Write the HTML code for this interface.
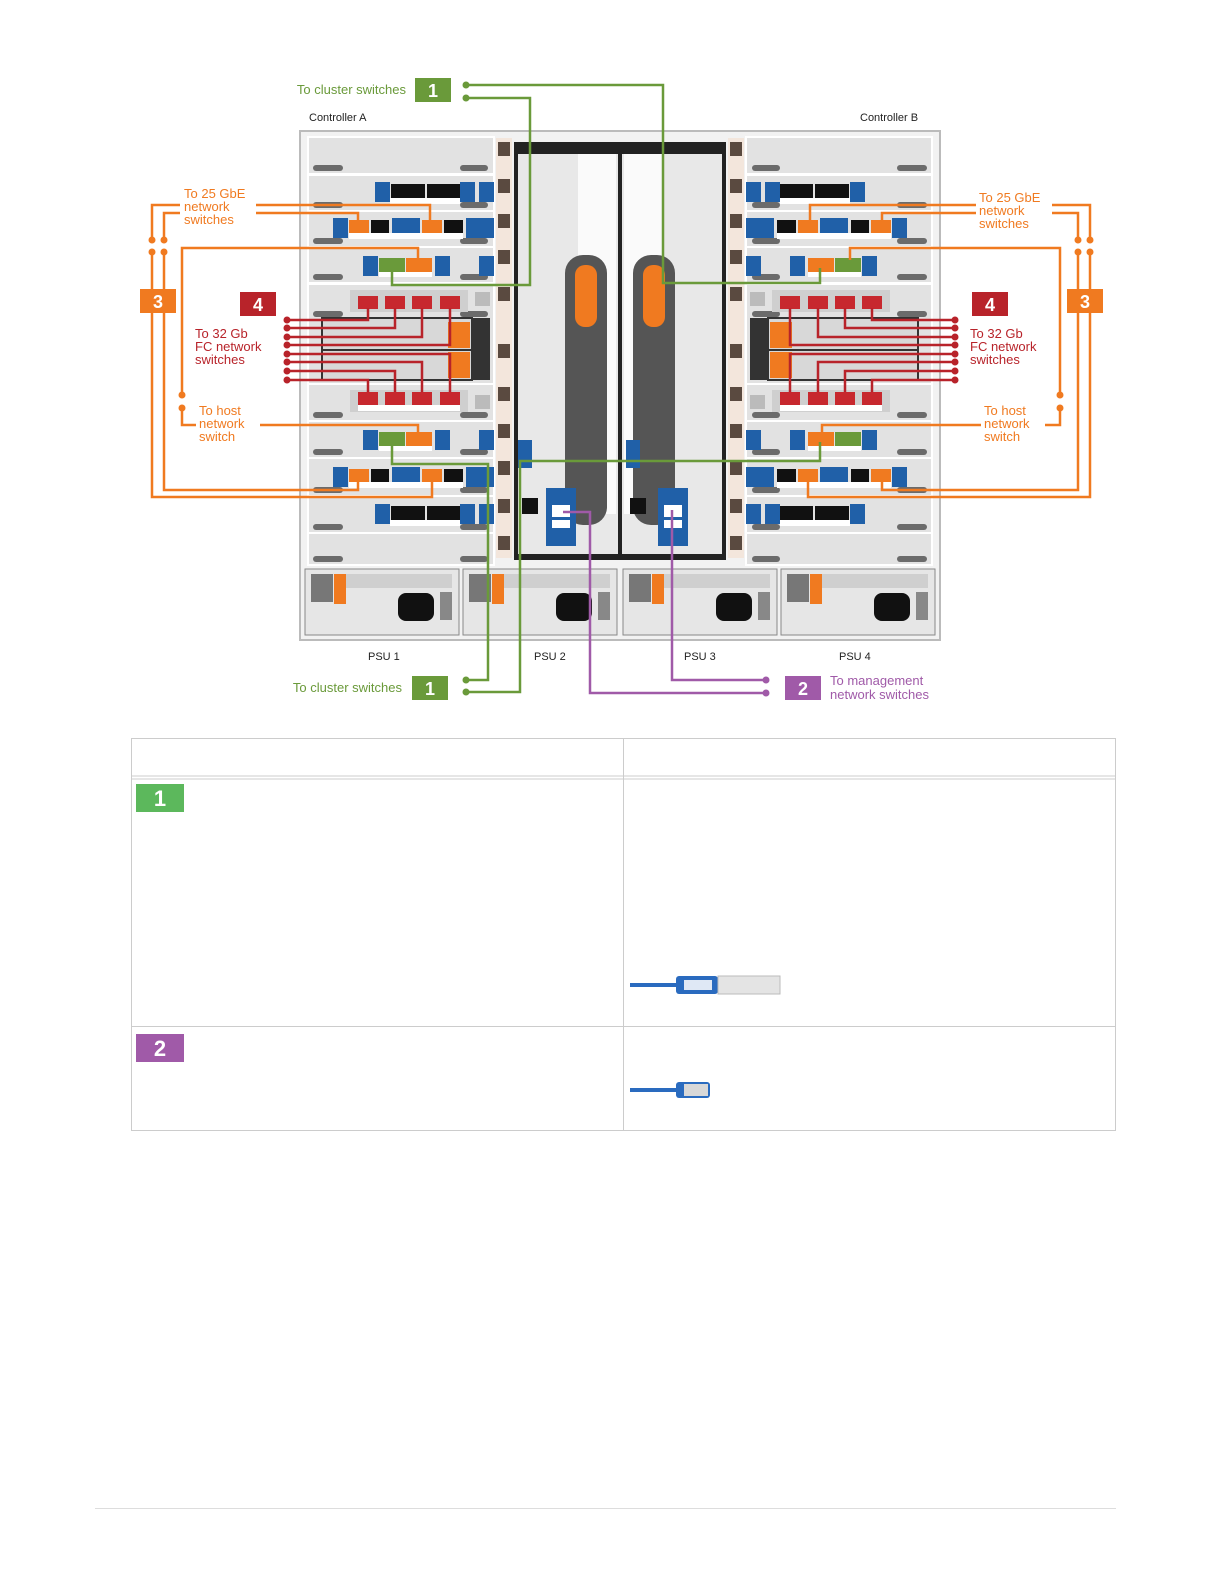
<!DOCTYPE html>
<html><head><meta charset="utf-8"><style>
body{margin:0;background:#fff;}
svg{display:block;font-family:"Liberation Sans",sans-serif;}
</style></head><body>
<svg width="1225" height="1585" viewBox="0 0 1225 1585" xmlns="http://www.w3.org/2000/svg">
<defs>
<g id="ctrl">
  <g fill="#e2e2e2" stroke="#fff" stroke-width="2">
    <rect x="308" y="137" width="186" height="37"/>
    <rect x="308" y="175" width="186" height="36"/>
    <rect x="308" y="211" width="186" height="36"/>
    <rect x="308" y="247" width="186" height="36"/>
    <rect x="308" y="284" width="186" height="100"/>
    <rect x="308" y="384" width="186" height="37"/>
    <rect x="308" y="421" width="186" height="37"/>
    <rect x="308" y="458" width="186" height="38"/>
    <rect x="308" y="496" width="186" height="37"/>
    <rect x="308" y="533" width="186" height="32"/>
  </g>
  <g fill="#6b6b6b">
    <rect x="313" y="165" width="30" height="6" rx="3"/><rect x="460" y="165" width="28" height="6" rx="3"/>
    <rect x="313" y="202" width="30" height="6" rx="3"/><rect x="460" y="202" width="28" height="6" rx="3"/>
    <rect x="313" y="238" width="30" height="6" rx="3"/><rect x="460" y="238" width="28" height="6" rx="3"/>
    <rect x="313" y="274" width="30" height="6" rx="3"/><rect x="460" y="274" width="28" height="6" rx="3"/>
    <rect x="313" y="311" width="30" height="6" rx="3"/><rect x="460" y="311" width="28" height="6" rx="3"/>
    <rect x="313" y="412" width="30" height="6" rx="3"/><rect x="460" y="412" width="28" height="6" rx="3"/>
    <rect x="313" y="449" width="30" height="6" rx="3"/><rect x="460" y="449" width="28" height="6" rx="3"/>
    <rect x="313" y="487" width="30" height="6" rx="3"/><rect x="460" y="487" width="28" height="6" rx="3"/>
    <rect x="313" y="524" width="30" height="6" rx="3"/><rect x="460" y="524" width="28" height="6" rx="3"/>
    <rect x="313" y="556" width="30" height="6" rx="3"/><rect x="460" y="556" width="28" height="6" rx="3"/>
  </g>
  <rect x="375" y="182" width="15" height="20" fill="#2060a8"/>
  <rect x="391" y="184" width="34" height="14" fill="#111"/><rect x="427" y="184" width="33" height="14" fill="#111"/>
  <rect x="390" y="198" width="70" height="6" fill="#fff"/>
  <rect x="460" y="182" width="15" height="20" fill="#2060a8"/><rect x="479" y="182" width="15" height="20" fill="#2060a8"/>
  <rect x="333" y="218" width="15" height="20" fill="#2060a8"/>
  <rect x="349" y="220" width="20" height="13" fill="#f07a20"/><rect x="371" y="220" width="18" height="13" fill="#111"/>
  <rect x="392" y="218" width="28" height="20" fill="#2060a8"/>
  <rect x="422" y="220" width="20" height="13" fill="#f07a20"/><rect x="444" y="220" width="19" height="13" fill="#111"/>
  <rect x="466" y="218" width="28" height="20" fill="#2060a8"/>
  <rect x="349" y="233" width="114" height="6" fill="#fff"/>
  <rect x="363" y="256" width="15" height="20" fill="#2060a8"/>
  <rect x="379" y="258" width="26" height="14" fill="#6a9a3a"/><rect x="406" y="258" width="26" height="14" fill="#f07a20"/>
  <rect x="379" y="272" width="53" height="5" fill="#fff"/>
  <rect x="435" y="256" width="15" height="20" fill="#2060a8"/><rect x="479" y="256" width="15" height="20" fill="#2060a8"/>
  <rect x="350" y="290" width="118" height="22" fill="#cfcfcf"/>
  <rect x="358" y="296" width="20" height="13" fill="#c7282e"/><rect x="385" y="296" width="20" height="13" fill="#c7282e"/>
  <rect x="412" y="296" width="20" height="13" fill="#c7282e"/><rect x="440" y="296" width="20" height="13" fill="#c7282e"/>
  <rect x="475" y="292" width="15" height="14" fill="#bbb"/>
  <rect x="322" y="318" width="150" height="62" fill="#d8d8d8" stroke="#333" stroke-width="2"/>
  <line x1="322" y1="350" x2="472" y2="350" stroke="#333" stroke-width="2"/>
  <rect x="448" y="322" width="22" height="26" fill="#f07a20"/><rect x="448" y="352" width="22" height="26" fill="#f07a20"/>
  <rect x="472" y="318" width="18" height="62" fill="#333"/>
  <rect x="350" y="390" width="118" height="22" fill="#cfcfcf"/>
  <rect x="358" y="392" width="20" height="13" fill="#c7282e"/><rect x="385" y="392" width="20" height="13" fill="#c7282e"/>
  <rect x="412" y="392" width="20" height="13" fill="#c7282e"/><rect x="440" y="392" width="20" height="13" fill="#c7282e"/>
  <rect x="358" y="405" width="102" height="6" fill="#fff"/>
  <rect x="475" y="395" width="15" height="14" fill="#bbb"/>
  <rect x="363" y="430" width="15" height="20" fill="#2060a8"/>
  <rect x="379" y="432" width="26" height="14" fill="#6a9a3a"/><rect x="406" y="432" width="26" height="14" fill="#f07a20"/>
  <rect x="379" y="446" width="53" height="5" fill="#fff"/>
  <rect x="435" y="430" width="15" height="20" fill="#2060a8"/><rect x="479" y="430" width="15" height="20" fill="#2060a8"/>
  <rect x="333" y="467" width="15" height="20" fill="#2060a8"/>
  <rect x="349" y="469" width="20" height="13" fill="#f07a20"/><rect x="371" y="469" width="18" height="13" fill="#111"/>
  <rect x="392" y="467" width="28" height="20" fill="#2060a8"/>
  <rect x="422" y="469" width="20" height="13" fill="#f07a20"/><rect x="444" y="469" width="19" height="13" fill="#111"/>
  <rect x="466" y="467" width="28" height="20" fill="#2060a8"/>
  <rect x="349" y="482" width="114" height="6" fill="#fff"/>
  <rect x="375" y="504" width="15" height="20" fill="#2060a8"/>
  <rect x="391" y="506" width="34" height="14" fill="#111"/><rect x="427" y="506" width="33" height="14" fill="#111"/>
  <rect x="390" y="520" width="70" height="6" fill="#fff"/>
  <rect x="460" y="504" width="15" height="20" fill="#2060a8"/><rect x="479" y="504" width="15" height="20" fill="#2060a8"/>
  <rect x="496" y="138" width="16" height="420" fill="#f3e6dc"/>
  <g fill="#5a4a40">
    <rect x="498" y="142" width="12" height="14"/><rect x="498" y="179" width="12" height="14"/><rect x="498" y="214" width="12" height="14"/>
    <rect x="498" y="250" width="12" height="14"/><rect x="498" y="287" width="12" height="14"/><rect x="498" y="344" width="12" height="14"/>
    <rect x="498" y="387" width="12" height="14"/><rect x="498" y="424" width="12" height="14"/><rect x="498" y="461" width="12" height="14"/>
    <rect x="498" y="499" width="12" height="14"/><rect x="498" y="536" width="12" height="14"/>
  </g>
  <rect x="514" y="142" width="106" height="418" fill="#222"/>
  <rect x="518" y="154" width="100" height="400" fill="#e8e8e8"/>
  <rect x="578" y="154" width="38" height="360" fill="#fafafa"/>
  <rect x="565" y="255" width="42" height="270" rx="18" fill="#555"/>
  <rect x="575" y="265" width="22" height="62" rx="10" fill="#f07a20"/>
</g>
<g id="psu">
  <rect x="0" y="0" width="154" height="66" fill="#e6e6e6" stroke="#888"/>
  <rect x="6" y="5" width="22" height="28" fill="#777"/>
  <rect x="29" y="5" width="12" height="30" fill="#f07a20"/>
  <rect x="41" y="5" width="106" height="14" fill="#cfcfcf"/>
  <rect x="93" y="24" width="36" height="28" rx="8" fill="#111"/>
  <rect x="135" y="23" width="12" height="28" fill="#888"/>
</g>
</defs>

<rect x="300" y="131" width="640" height="509" fill="#f2f2f2" stroke="#bbb" stroke-width="2"/>
<use href="#ctrl"/>
<use href="#ctrl" transform="translate(1240,0) scale(-1,1)"/>
<!-- I/O ports on center modules -->
<rect x="518" y="440" width="14" height="28" fill="#2060a8"/>
<rect x="522" y="498" width="16" height="16" fill="#111"/>
<rect x="546" y="488" width="30" height="58" fill="#2060a8"/>
<rect x="552" y="505" width="18" height="12" fill="#fff"/><rect x="552" y="520" width="18" height="8" fill="#fff"/>
<rect x="626" y="440" width="14" height="28" fill="#2060a8"/>
<rect x="630" y="498" width="16" height="16" fill="#111"/>
<rect x="658" y="488" width="30" height="58" fill="#2060a8"/>
<rect x="664" y="505" width="18" height="12" fill="#fff"/><rect x="664" y="520" width="18" height="8" fill="#fff"/>
<use href="#psu" transform="translate(305,569)"/>
<use href="#psu" transform="translate(463,569)"/>
<use href="#psu" transform="translate(623,569)"/>
<use href="#psu" transform="translate(781,569)"/>

<g font-size="11" fill="#222">
<text x="309" y="121">Controller A</text>
<text x="860" y="121">Controller B</text>
<text x="368" y="660">PSU 1</text><text x="534" y="660">PSU 2</text>
<text x="684" y="660">PSU 3</text><text x="839" y="660">PSU 4</text>
</g>

<g fill="none" stroke="#6a9a3a" stroke-width="2.5">
<polyline points="466,85 663,85 663,283 820,283 820,268"/>
<polyline points="466,98 530,98 530,285 392,285 392,268"/>
<polyline points="466,680 488,680 488,464 392,464 392,442"/>
<polyline points="466,692 520,692 520,461 820,461 820,442"/>
</g>
<g fill="#6a9a3a"><circle cx="466" cy="85" r="3.5"/><circle cx="466" cy="98" r="3.5"/><circle cx="466" cy="680" r="3.5"/><circle cx="466" cy="692" r="3.5"/></g>
<rect x="415" y="78" width="36" height="24" fill="#6a9a3a"/><text x="433" y="97" font-size="18" font-weight="bold" fill="#fff" text-anchor="middle">1</text>
<text x="406" y="94" font-size="13" fill="#6a9a3a" text-anchor="end">To cluster switches</text>
<rect x="412" y="676" width="36" height="24" fill="#6a9a3a"/><text x="430" y="695" font-size="18" font-weight="bold" fill="#fff" text-anchor="middle">1</text>
<text x="402" y="692" font-size="13" fill="#6a9a3a" text-anchor="end">To cluster switches</text>

<g fill="none" stroke="#a05aa8" stroke-width="2.5">
<polyline points="766,680 672,680 672,510"/>
<polyline points="766,693 590,693 590,512 563,512"/>
</g>
<g fill="#a05aa8"><circle cx="766" cy="680" r="3.5"/><circle cx="766" cy="693" r="3.5"/></g>
<rect x="785" y="676" width="36" height="24" fill="#a05aa8"/><text x="803" y="695" font-size="18" font-weight="bold" fill="#fff" text-anchor="middle">2</text>
<text x="830" y="685" font-size="13" fill="#a05aa8">To management</text>
<text x="830" y="699" font-size="13" fill="#a05aa8">network switches</text>

<g fill="none" stroke="#f07a20" stroke-width="2.5">
<polyline points="152,240 152,205 430,205 430,222"/>
<polyline points="164,240 164,213 358,213 358,222"/>
<polyline points="152,252 152,497 432,497 432,482"/>
<polyline points="164,252 164,490 358,490 358,482"/>
<polyline points="182,395 182,248 418,248 418,260"/>
<polyline points="182,408 182,425 418,425 418,434"/>
<polyline points="1090,240 1090,205 810,205 810,222"/>
<polyline points="1078,240 1078,213 882,213 882,222"/>
<polyline points="1090,252 1090,497 808,497 808,482"/>
<polyline points="1078,252 1078,490 882,490 882,482"/>
<polyline points="1060,395 1060,248 850,248 850,260"/>
<polyline points="1060,408 1060,425 822,425 822,434"/>
</g>
<g fill="#f07a20">
<circle cx="152" cy="240" r="3.5"/><circle cx="164" cy="240" r="3.5"/><circle cx="152" cy="252" r="3.5"/><circle cx="164" cy="252" r="3.5"/>
<circle cx="182" cy="395" r="3.5"/><circle cx="182" cy="408" r="3.5"/>
<circle cx="1090" cy="240" r="3.5"/><circle cx="1078" cy="240" r="3.5"/><circle cx="1090" cy="252" r="3.5"/><circle cx="1078" cy="252" r="3.5"/>
<circle cx="1060" cy="395" r="3.5"/><circle cx="1060" cy="408" r="3.5"/>
</g>
<rect x="140" y="289" width="36" height="24" fill="#f07a20"/><text x="158" y="308" font-size="18" font-weight="bold" fill="#fff" text-anchor="middle">3</text>
<rect x="1067" y="289" width="36" height="24" fill="#f07a20"/><text x="1085" y="308" font-size="18" font-weight="bold" fill="#fff" text-anchor="middle">3</text>
<g font-size="13" fill="#f07a20">
<rect x="180" y="186" width="76" height="40" fill="#fff"/>
<text x="184" y="198">To 25 GbE</text><text x="184" y="211">network</text><text x="184" y="224">switches</text>
<rect x="196" y="403" width="64" height="40" fill="#fff"/>
<text x="199" y="415">To host</text><text x="199" y="428">network</text><text x="199" y="441">switch</text>
<rect x="976" y="189" width="76" height="40" fill="#fff"/>
<text x="979" y="202">To 25 GbE</text><text x="979" y="215">network</text><text x="979" y="228">switches</text>
<rect x="981" y="403" width="64" height="40" fill="#fff"/>
<text x="984" y="415">To host</text><text x="984" y="428">network</text><text x="984" y="441">switch</text>
</g>

<g fill="none" stroke="#b8232a" stroke-width="2.5">
<polyline points="287,320 368,320 368,308"/>
<polyline points="287,328 395,328 395,308"/>
<polyline points="287,337 422,337 422,308"/>
<polyline points="287,345 450,345 450,308"/>
<polyline points="287,354 450,354 450,392"/>
<polyline points="287,362 422,362 422,392"/>
<polyline points="287,371 395,371 395,392"/>
<polyline points="287,380 368,380 368,392"/>
<polyline points="955,320 872,320 872,308"/>
<polyline points="955,328 845,328 845,308"/>
<polyline points="955,337 818,337 818,308"/>
<polyline points="955,345 790,345 790,308"/>
<polyline points="955,354 790,354 790,392"/>
<polyline points="955,362 818,362 818,392"/>
<polyline points="955,371 845,371 845,392"/>
<polyline points="955,380 872,380 872,392"/>
</g>
<g fill="#b8232a">
<circle cx="287" cy="320" r="3.5"/><circle cx="287" cy="328" r="3.5"/><circle cx="287" cy="337" r="3.5"/><circle cx="287" cy="345" r="3.5"/>
<circle cx="287" cy="354" r="3.5"/><circle cx="287" cy="362" r="3.5"/><circle cx="287" cy="371" r="3.5"/><circle cx="287" cy="380" r="3.5"/>
<circle cx="955" cy="320" r="3.5"/><circle cx="955" cy="328" r="3.5"/><circle cx="955" cy="337" r="3.5"/><circle cx="955" cy="345" r="3.5"/>
<circle cx="955" cy="354" r="3.5"/><circle cx="955" cy="362" r="3.5"/><circle cx="955" cy="371" r="3.5"/><circle cx="955" cy="380" r="3.5"/>
</g>
<rect x="240" y="292" width="36" height="24" fill="#b8232a"/><text x="258" y="311" font-size="18" font-weight="bold" fill="#fff" text-anchor="middle">4</text>
<rect x="972" y="292" width="36" height="24" fill="#b8232a"/><text x="990" y="311" font-size="18" font-weight="bold" fill="#fff" text-anchor="middle">4</text>
<g font-size="13" fill="#b8232a">
<text x="195" y="338">To 32 Gb</text><text x="195" y="351">FC network</text><text x="195" y="364">switches</text>
<text x="970" y="338">To 32 Gb</text><text x="970" y="351">FC network</text><text x="970" y="364">switches</text>
</g>

<g stroke="#ccc" stroke-width="1" fill="none">
<rect x="131.5" y="738.5" width="984" height="392"/>
<line x1="131" y1="776" x2="1116" y2="776"/>
<line x1="131" y1="779" x2="1116" y2="779"/>
<line x1="131" y1="1026.5" x2="1116" y2="1026.5"/>
<line x1="623.5" y1="738" x2="623.5" y2="1130"/>
</g>
<rect x="136" y="784" width="48" height="28" fill="#5cb85c"/><text x="160" y="806" font-size="22" font-weight="bold" fill="#fff" text-anchor="middle">1</text>
<rect x="136" y="1034" width="48" height="28" fill="#a05aa8"/><text x="160" y="1056" font-size="22" font-weight="bold" fill="#fff" text-anchor="middle">2</text>
<line x1="630" y1="985" x2="680" y2="985" stroke="#2a6bbf" stroke-width="4"/>
<rect x="676" y="976" width="42" height="18" rx="3" fill="#2a6bbf"/>
<rect x="684" y="980" width="28" height="10" fill="#dfe8f5"/>
<rect x="718" y="976" width="62" height="18" fill="#e4e4e4" stroke="#bbb"/>
<line x1="630" y1="1090" x2="680" y2="1090" stroke="#2a6bbf" stroke-width="4"/>
<rect x="676" y="1082" width="34" height="16" rx="3" fill="#2a6bbf"/>
<rect x="684" y="1084" width="24" height="12" fill="#d8d8d8"/>
<line x1="95" y1="1508.5" x2="1116" y2="1508.5" stroke="#ddd"/>
</svg>
</body></html>
